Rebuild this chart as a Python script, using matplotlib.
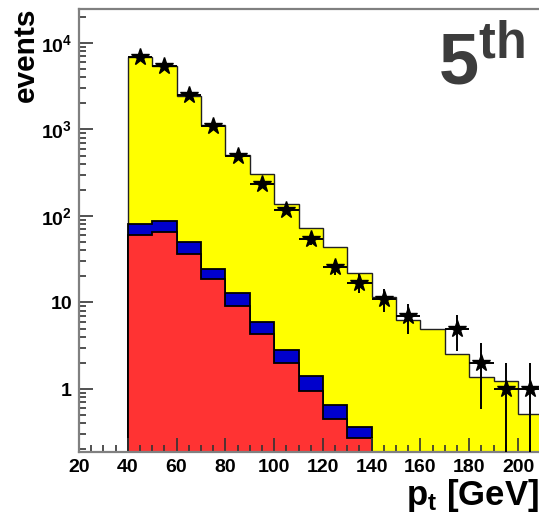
import numpy as np
import matplotlib.pyplot as plt
from matplotlib.ticker import MultipleLocator, LogLocator, FuncFormatter, NullFormatter

# bin edges in GeV (10 GeV bins from 40 to 210)
edges = np.arange(40, 220, 10)
centers = edges[:-1] + 5

# stacked components (events per bin)
red = [60.3, 64.8, 36.1, 18.5, 9.2, 4.3, 2.0, 0.95, 0.45, 0.27]
blue = [19.7, 23.2, 13.5, 5.9, 3.6, 1.7, 0.82, 0.46, 0.21, 0.09]
yellow = [6750, 5382, 2410, 1104, 499, 297, 135, 70.6, 42.8, 21.4,
          11.7, 6.3, 4.9, 2.54, 1.36, 1.23, 0.51]

# observed data points
data = [6900, 5400, 2500, 1110, 500, 234, 117, 54, 26, 17,
        11, 7, 0, 5, 2, 1, 1]

plt.rcParams['font.family'] = ['Liberation Sans', 'DejaVu Sans']
plt.rcParams['font.weight'] = 'bold'
plt.rcParams['mathtext.fontset'] = 'custom'
plt.rcParams['mathtext.rm'] = 'Liberation Sans:bold'
plt.rcParams['mathtext.it'] = 'Liberation Sans:bold'
plt.rcParams['mathtext.bf'] = 'Liberation Sans:bold'

dpi = 100
fig = plt.figure(dpi=dpi, figsize=(539 / dpi, 520 / dpi))
ax = fig.add_axes([79 / 539, 68 / 520, 460 / 539, 443 / 520])

n_sig = len(red)
red_a = np.array(red)
blue_top = red_a + np.array(blue)
total = np.array(yellow)
total[:n_sig] += blue_top

base = 1e-3
ax.stairs(total, edges, baseline=base, fill=True, color='#ffff00', zorder=1)
ax.stairs(total, edges, baseline=base, color='#222222', lw=1.0, zorder=1.1)
ax.stairs(blue_top, edges[:n_sig + 1], baseline=base, fill=True, color='#0000cc', zorder=1.2)
ax.stairs(blue_top, edges[:n_sig + 1], baseline=base, color='black', lw=1.3, zorder=1.3)
ax.stairs(red_a, edges[:n_sig + 1], baseline=base, fill=True, color='#ff3333', zorder=1.4)
ax.stairs(red_a, edges[:n_sig + 1], baseline=base, color='black', lw=1.3, zorder=1.5)

d = np.array(data, dtype=float)
m = d > 0
err = np.sqrt(d[m])
lo = np.minimum(err, d[m] - base)
ax.errorbar(centers[m], d[m], yerr=[lo, err], xerr=5, fmt='none',
            ecolor='black', elinewidth=1.4, capsize=0, zorder=3)
ax.plot(centers[m], d[m], ls='none', marker='*', ms=13, color='black', zorder=4)

ax.set_yscale('log')
ax.set_xlim(20, 208.6)
ax.set_ylim(0.187, 24700)

ax.xaxis.set_major_locator(MultipleLocator(20))
ax.xaxis.set_minor_locator(MultipleLocator(5))
ax.yaxis.set_major_locator(LogLocator(base=10, numticks=10))
ax.yaxis.set_minor_locator(LogLocator(base=10, subs=np.arange(2, 10), numticks=20))
ax.yaxis.set_minor_formatter(NullFormatter())


def ylab(v, pos):
    e = int(round(np.log10(v)))
    if e == 0:
        return '1'
    if e == 1:
        return '10'
    return r'$10^{%d}$' % e


ax.yaxis.set_major_formatter(FuncFormatter(ylab))

ax.tick_params(which='both', direction='in', top=False, right=False,
               color='#333333', labelsize=14, width=1.2)
ax.tick_params(which='major', length=10, pad=5)
ax.tick_params(which='minor', length=5)
for lab in ax.get_xticklabels() + ax.get_yticklabels():
    lab.set_fontweight('bold')

for s in ['left', 'bottom', 'top']:
    ax.spines[s].set_color('#808080')
    ax.spines[s].set_linewidth(1.6)
ax.spines['right'].set_visible(False)

fig.text(33.5 / 539, 1 - 8 / 520, 'events', rotation=90, rotation_mode='anchor',
         ha='right', va='baseline', fontsize=21.5, fontweight='bold')
fig.text(1.0, 15 / 520, r'$\mathrm{p_{t}}$ [GeV]', ha='right', va='baseline',
         fontsize=25, fontweight='bold')
fig.text(438 / 539, 1 - 85 / 520, r'5$^{\mathrm{th}}$', ha='left', va='baseline',
         fontsize=52, fontweight='bold', color='#3c3c3c')

fig.savefig('out.png', dpi=dpi)
